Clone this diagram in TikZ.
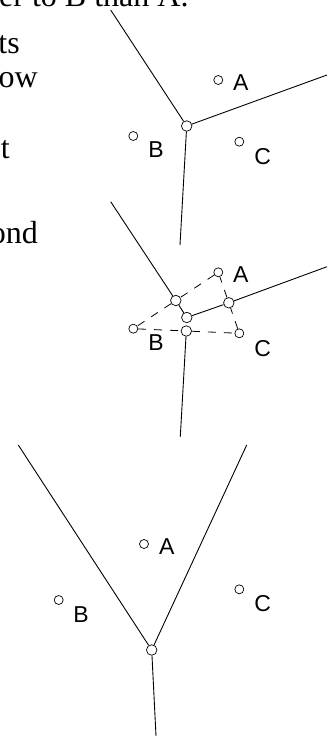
\documentclass[tikz,border=0pt]{standalone}
\usepackage{fontspec}
\setmainfont{Liberation Serif}
\newfontfamily\labelfont{Liberation Sans}
\usetikzlibrary{calc, positioning}

\begin{document}
\begin{tikzpicture}[x=1pt, y=-1pt,
    site/.style={draw, fill=white, circle, inner sep=0pt,
                 minimum size=9pt, line width=0.7pt},
    vertex/.style={site, minimum size=10.5pt},
    lab/.style={font=\labelfont\fontsize{23}{23}\selectfont, inner sep=0pt},
    edge/.style={line width=0.9pt},
    bisect/.style={line width=0.8pt, dash pattern=on 8pt off 8pt},
    prose/.style={font=\fontsize{32}{32}\selectfont, inner sep=0pt,
                  anchor=base east},
]
  \useasboundingbox (0,0) rectangle (327,736);
  \clip (0,0) rectangle (327,736);

  \node[prose, anchor=base west] (line0) at (-1,6.5) {er to B than A.};
  \node[prose] (line1) at (20,53)  {ts};
  \node[prose] (line2) at (38,87)  {ow};
  \node[prose] (line3) at (10,158) {t};
  \node[prose] (line4) at (38,243) {ond};

  \node[site]   (A1) at (218.3,80)    {};
  \node[site]   (B1) at (133.3,136)   {};
  \node[site]   (C1) at (239.3,141.7) {};
  \node[vertex] (O1) at (186.7,126)   {};
  \coordinate (n1) at (110.7,10);
  \coordinate (e1) at (327,75);
  \coordinate (s1) at (180,245);
  \draw[edge] (n1) -- (O1) -- (e1) (O1) -- (s1);
  \node[lab] (labA1) at ($(A1)+(22.6,2.4)$)  {A};
  \node[lab] (labB1) at ($(B1)+(22.7,14)$)   {B};
  \node[lab] (labC1) at ($(C1)+(23.4,14.5)$) {C};

  \node[site]   (A2) at (218.3,272.3) {};
  \node[site]   (B2) at (133.3,328.7) {};
  \node[site]   (C2) at (239.3,333.3) {};
  \node[vertex] (O2) at (186.8,317.5) {};
  \node[vertex] (mAB) at ($(A2)!0.5!(B2)$) {};
  \node[vertex] (mAC) at ($(A2)!0.5!(C2)$) {};
  \node[vertex] (mBC) at ($(B2)!0.5!(C2)$) {};
  \coordinate (n2) at (110.7,201.7);
  \coordinate (e2) at (327,266.7);
  \coordinate (s2) at (180.3,436.7);
  \draw[edge] (n2) -- (mAB) -- (O2) -- (mAC) -- (e2) (mBC) -- (s2);
  \draw[bisect] (A2) -- (mAB) -- (B2) -- (mBC) -- (C2) -- (mAC) -- (A2);
  \node[lab] (labA2) at ($(A2)+(22.6,2.6)$)  {A};
  \node[lab] (labB2) at ($(B2)+(22.7,14)$)   {B};
  \node[lab] (labC2) at ($(C2)+(23.4,14.8)$) {C};

  \node[site]   (A3) at (144,544)     {};
  \node[site]   (B3) at (58.7,600)    {};
  \node[site]   (C3) at (239.3,589.3) {};
  \node[vertex] (O3) at (151.7,650)   {};
  \coordinate (w3) at (18.3,445);
  \coordinate (e3) at (246.7,445);
  \coordinate (s3) at (156,736);
  \draw[edge] (w3) -- (O3) -- (e3) (O3) -- (s3);
  \node[lab] (labA3) at ($(A3)+(22.7,2.7)$)  {A};
  \node[lab] (labB3) at ($(B3)+(22.3,15)$)   {B};
  \node[lab] (labC3) at ($(C3)+(23.4,14)$)   {C};
\end{tikzpicture}
\end{document}
